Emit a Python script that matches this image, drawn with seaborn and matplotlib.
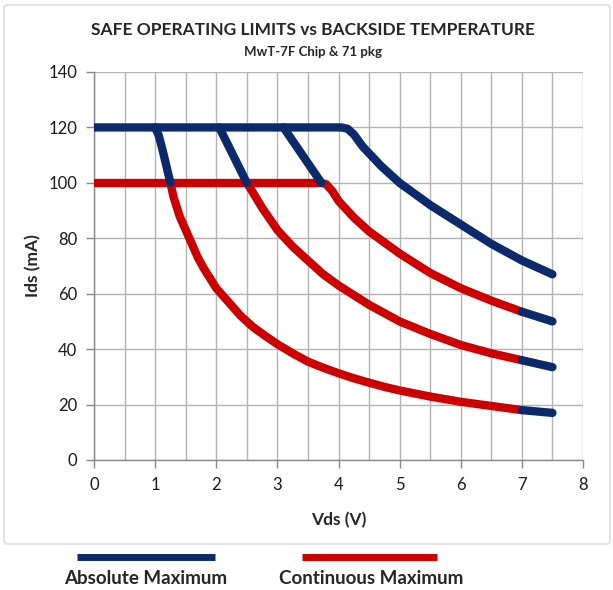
import pandas as pd
import seaborn as sns
import matplotlib.pyplot as plt
from matplotlib.lines import Line2D
from matplotlib.patches import FancyBboxPatch

# (Vds in V, Ids in mA)
# red = continuous maximum, blue = absolute maximum
cont_flat_v = [0.0, 3.72]
cont_flat_i = [100, 100]

cont1_v = [1.25, 1.3, 1.4, 1.5, 1.6, 1.7, 1.8, 1.9, 2.0, 2.2, 2.4, 2.6, 2.8, 3.0,
           3.25, 3.5, 3.75, 4.0, 4.25, 4.5, 4.75, 5.0, 5.5, 6.0, 6.5, 7.0]
cont1_i = [100, 95, 88, 83, 78, 73, 69, 65.5, 62, 57, 52, 48, 44.8, 41.8,
           38.5, 35.5, 33.3, 31.3, 29.5, 27.9, 26.4, 25.1, 22.9, 21, 19.5, 18]
cont2_v = [2.5, 2.6, 2.75, 3.0, 3.25, 3.5, 3.75, 4.0, 4.25, 4.5, 4.75, 5.0,
           5.5, 6.0, 6.5, 7.0]
cont2_i = [100, 96.5, 91, 83, 77, 72, 67, 63, 59.5, 56, 53, 50,
           45.5, 41.5, 38.5, 36]
cont3_v = [3.72, 3.8, 3.9, 4.0, 4.25, 4.5, 4.75, 5.0, 5.5, 6.0, 6.5, 7.0]
cont3_i = [100, 99.5, 97, 93.5, 87.5, 82.5, 78.5, 74.5, 67.5, 62, 57.5, 53.5]

abs_top_v = [0.0, 4.05, 4.15, 4.25, 4.4, 4.55, 4.7, 4.85, 5.0, 5.25, 5.5, 5.75,
             6.0, 6.25, 6.5, 6.75, 7.0, 7.25, 7.5]
abs_top_i = [120, 120, 119.5, 117.5, 113, 109.5, 106, 103, 100, 96, 92, 88.5,
             85, 81.5, 78, 75, 72, 69.5, 67]
knee1_v = [1.0, 1.06, 1.12, 1.25]
knee1_i = [120, 117, 112, 100]
knee2_v = [2.05, 2.5]
knee2_i = [120, 100]
knee3_v = [3.1, 3.72]
knee3_i = [120, 100]
tail1_v = [7.0, 7.5]
tail1_i = [18, 17]
tail2_v = [7.0, 7.5]
tail2_i = [36, 33.5]
tail3_v = [7.0, 7.5]
tail3_i = [53.5, 50]

x_ticks = [0, 1, 2, 3, 4, 5, 6, 7, 8]
y_ticks = [0, 20, 40, 60, 80, 100, 120, 140]

BLUE = "#0b2a6b"
RED = "#cc0000"

sns.set_theme(style="white")
plt.rcParams['font.family'] = ['Lato', 'DejaVu Sans']

fig = plt.figure(figsize=(6.13, 5.90), dpi=100)
ax = fig.add_axes([94 / 613, 1 - 460 / 590, 489 / 613, 388 / 590])

red_segments = [(cont_flat_v, cont_flat_i), (cont1_v, cont1_i),
                (cont2_v, cont2_i), (cont3_v, cont3_i)]
blue_segments = [(abs_top_v, abs_top_i), (knee1_v, knee1_i), (knee2_v, knee2_i),
                 (knee3_v, knee3_i), (tail1_v, tail1_i), (tail2_v, tail2_i),
                 (tail3_v, tail3_i)]

for segs, col in [(red_segments, RED), (blue_segments, BLUE)]:
    for v, i in segs:
        df = pd.DataFrame({'Vds': v, 'Ids': i})
        sns.lineplot(data=df, x='Vds', y='Ids', ax=ax, color=col, linewidth=6,
                     sort=False, estimator=None, solid_capstyle='round',
                     solid_joinstyle='round', zorder=3)

ax.set_xlim(0, 8)
ax.set_ylim(0, 140)
ax.set_xticks(x_ticks)
ax.set_yticks(y_ticks)
ax.set_xticks([x + 0.5 for x in x_ticks[:-1]], minor=True)
ax.grid(True, which='both', color='#b3b3b3', linewidth=1)
ax.tick_params(axis='both', which='major', length=6, width=1, color='#888888',
               labelsize=12, labelcolor='#1a1a1a', direction='out',
               bottom=True, left=True)
ax.tick_params(axis='x', which='major', pad=6)
ax.tick_params(axis='y', which='major', pad=6)
ax.tick_params(which='minor', length=0)
for s in ['top', 'right']:
    ax.spines[s].set_visible(False)
for s in ['left', 'bottom']:
    ax.spines[s].set_color('#888888')
    ax.spines[s].set_linewidth(1)

ax.set_xlabel('Vds (V)', fontsize=12.5, fontweight='bold', labelpad=14)
ax.set_ylabel('Ids (mA)', fontsize=12.5, fontweight='bold', labelpad=5)

fig.text(313 / 613, 1 - 30 / 590, 'SAFE OPERATING LIMITS vs BACKSIDE TEMPERATURE',
         ha='center', va='center', fontsize=12.5, fontweight='bold')
fig.text(313 / 613, 1 - 52 / 590, 'MwT-7F Chip & 71 pkg',
         ha='center', va='center', fontsize=9.5, fontweight='bold')

# chart border
fig.add_artist(FancyBboxPatch((4 / 613, 1 - 544 / 590), 606 / 613, 539 / 590,
                              boxstyle='round,pad=0,rounding_size=0.005',
                              transform=fig.transFigure, facecolor='none',
                              edgecolor='#d9d9d9', linewidth=1))

# legend below the chart
fig.add_artist(Line2D([77 / 613, 215 / 613], [1 - 557 / 590] * 2, color=BLUE,
                      linewidth=5, solid_capstyle='butt', transform=fig.transFigure))
fig.add_artist(Line2D([302 / 613, 437 / 613], [1 - 557 / 590] * 2, color=RED,
                      linewidth=5, solid_capstyle='butt', transform=fig.transFigure))
fig.text(146 / 613, 1 - 578 / 590, 'Absolute Maximum', ha='center', va='center',
         fontsize=13.5, fontweight='bold')
fig.text(371 / 613, 1 - 578 / 590, 'Continuous Maximum', ha='center', va='center',
         fontsize=13.5, fontweight='bold')

fig.savefig('out.png', dpi=100)
